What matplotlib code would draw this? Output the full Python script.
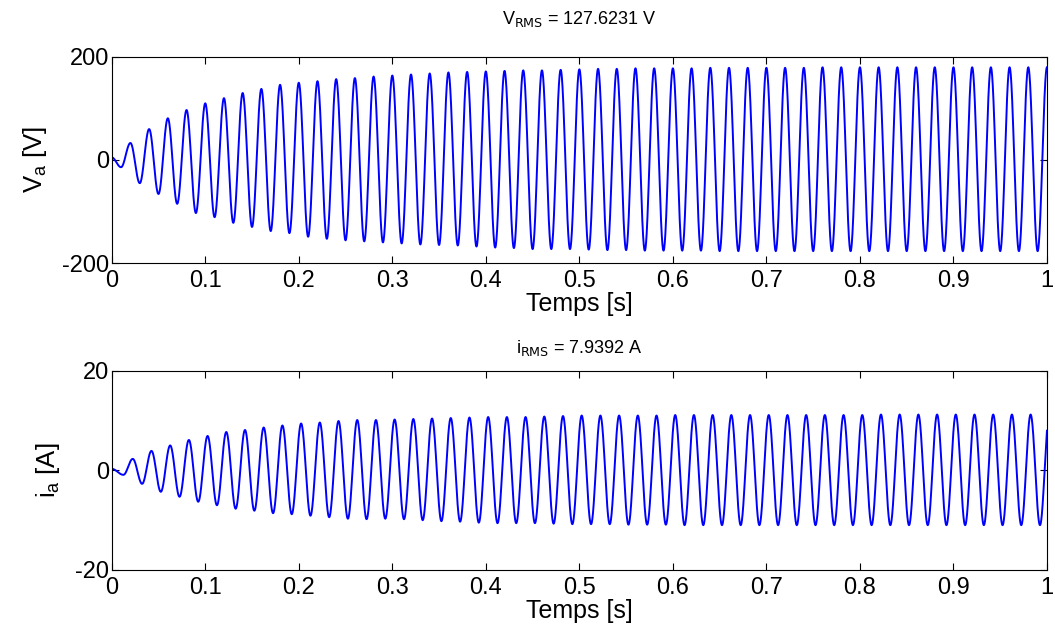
"""
plot.py

- Phase voltage and phase current of a machine start-up (MATLAB-style figure)
- Waveforms are drawn from the peak / trough values read off the original plot
- Saves out.png
"""

import numpy as np
import matplotlib
matplotlib.use("Agg")
import matplotlib.pyplot as plt

# ---------------------------
# Data
# ---------------------------
FREQ = 50.0               # Hz, one cycle every 0.02 s
V_START = 5.0             # value at t = 0
# positive peaks of V_a, one per cycle (t = 0.02, 0.04, ... 1.00)
V_PEAKS = [33, 60, 81, 97, 110, 120, 130, 138, 146, 150,
           153, 157, 159, 162, 164, 166, 168, 170, 171, 172,
           173, 174, 174, 175, 176, 177, 177, 178, 178, 178,
           178, 179, 179, 179, 179, 179, 179, 180, 180, 180,
           180, 180, 180, 180, 180, 180, 180, 180, 180, 180]
# negative troughs of V_a (t = 0.01, 0.03, ... 0.99)
V_TROUGHS = [-14, -45, -66, -85, -103, -111, -122, -130, -138, -142,
             -149, -153, -156, -158, -160, -162, -164, -165, -166, -168,
             -170, -171, -173, -173, -173, -174, -175, -175, -176, -176,
             -176, -176, -177, -177, -177, -177, -177, -177, -177, -177,
             -177, -177, -177, -177, -177, -177, -177, -177, -177, -177]

I_START = 0.3
I_LAG = 0.0025            # s, current lags the voltage a little
I_PEAKS = [2.3, 3.9, 5.0, 6.1, 6.9, 7.7, 8.1, 8.6, 9.0, 9.4,
           9.6, 9.9, 10.1, 10.1, 10.2, 10.3, 10.4, 10.5, 10.6, 10.7,
           10.7, 10.7, 10.8, 10.9, 11.0, 11.0, 11.0, 11.0, 11.0, 11.1,
           11.1, 11.1, 11.1, 11.1, 11.1, 11.1, 11.1, 11.1, 11.1, 11.1,
           11.2, 11.2, 11.2, 11.2, 11.2, 11.2, 11.2, 11.2, 11.2, 11.2]
I_TROUGHS = [-0.9, -2.7, -4.3, -5.3, -6.3, -7.0, -7.7, -8.1, -8.6, -8.8,
             -9.1, -9.4, -9.7, -9.8, -9.7, -9.8, -10.0, -10.2, -10.3, -10.5,
             -10.6, -10.6, -10.6, -10.7, -10.8, -10.8, -10.8, -10.9, -10.9, -10.9,
             -11.0, -11.0, -11.0, -11.0, -11.0, -11.0, -11.0, -11.0, -11.0, -11.0,
             -11.0, -11.0, -11.0, -11.0, -11.0, -11.0, -11.0, -11.0, -11.0, -11.0]

V_TITLE = r"V$_{\mathrm{RMS}}$ = 127.6231 V"
I_TITLE = r"i$_{\mathrm{RMS}}$ = 7.9392 A"
X_TICKS = [0, 0.1, 0.2, 0.3, 0.4, 0.5, 0.6, 0.7, 0.8, 0.9, 1]
X_TICK_LABELS = ["0", "0.1", "0.2", "0.3", "0.4", "0.5", "0.6", "0.7", "0.8", "0.9", "1"]


def extrema(start, troughs, peaks, lag):
    """Interleave start value, troughs and peaks with their times."""
    half = 0.5 / FREQ
    times = [0.0]
    vals = [start]
    for k in range(len(peaks)):
        times += [lag + half * (2 * k + 1), lag + half * (2 * k + 2)]
        vals += [troughs[k], peaks[k]]
    return np.array(times), np.array(vals, dtype=float)


def waveform(t, times, vals):
    """Half-cosine shape between consecutive extrema."""
    k = np.clip(np.searchsorted(times, t) - 1, 0, len(times) - 2)
    s = (t - times[k]) / (times[k + 1] - times[k])
    a, b = vals[k], vals[k + 1]
    return (a + b) / 2 + (a - b) / 2 * np.cos(np.pi * s)


def style_axes(ax, ylim, yticks, ylabel, title, title_pad):
    ax.set_xlim(0, 1)
    ax.set_ylim(*ylim)
    ax.set_xticks(X_TICKS)
    ax.set_xticklabels(X_TICK_LABELS)
    ax.set_yticks(yticks)
    ax.tick_params(direction="in", top=True, right=True, length=5,
                   width=0.8, labelsize=17)
    ax.tick_params(axis="x", pad=5)
    ax.tick_params(axis="y", pad=2)
    for sp in ax.spines.values():
        sp.set_linewidth(0.8)
    ax.set_xlabel("Temps [s]", fontsize=18, labelpad=0)
    ax.set_ylabel(ylabel, fontsize=18.5, labelpad=9)
    ax.set_title(title, fontsize=13, pad=title_pad)


def main():
    plt.rcParams["font.family"] = ["Liberation Sans", "DejaVu Sans"]
    plt.rcParams["mathtext.default"] = "regular"
    plt.rcParams["axes.unicode_minus"] = False

    t = np.linspace(0, 1, 6001)
    tv, vv = extrema(V_START, V_TROUGHS, V_PEAKS, 0.0)
    ti, vi = extrema(I_START, I_TROUGHS, I_PEAKS, I_LAG)
    va = waveform(t, tv, vv)
    ia = waveform(t, ti, vi)

    fig = plt.figure(figsize=(10.55, 6.31), dpi=100)
    ax1 = fig.add_axes([0.1059, 0.5832, 0.8865, 0.3265])
    ax2 = fig.add_axes([0.1059, 0.0967, 0.8865, 0.3158])

    ax1.plot(t, va, color="#0000ff", lw=1.4)
    style_axes(ax1, (-200, 200), [-200, 0, 200], r"V$_a$ [V]", V_TITLE, 24)

    ax2.plot(t, ia, color="#0000ff", lw=1.4)
    style_axes(ax2, (-20, 20), [-20, 0, 20], r"i$_a$ [A]", I_TITLE, 13)

    fig.savefig("out.png", dpi=100)
    plt.close(fig)


if __name__ == "__main__":
    main()
